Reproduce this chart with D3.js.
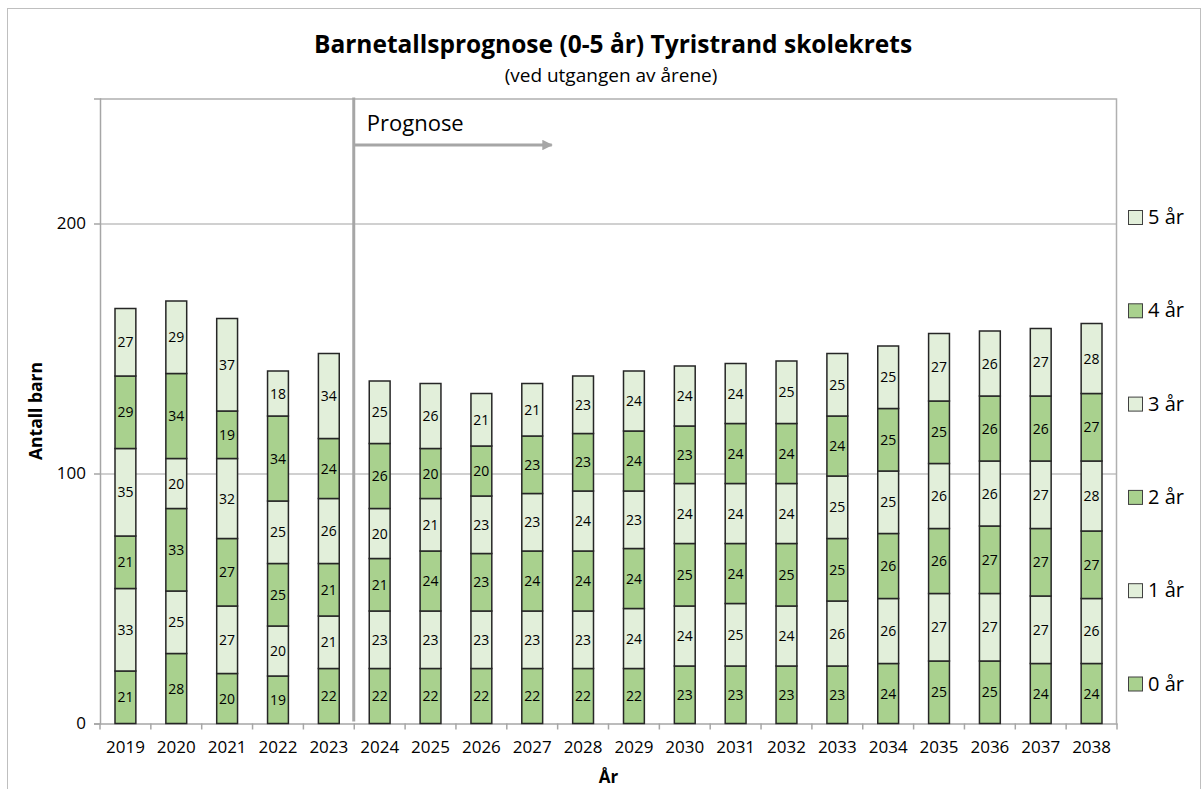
<!DOCTYPE html>
<html>
<head>
<meta charset="utf-8">
<script src="https://cdn.jsdelivr.net/npm/d3@7"></script>
<style>
  body { margin: 0; background: #fff; }
  text { font-family: 'Open Sans', sans-serif; fill: #000; }
</style>
</head>
<body>
<div id="chart-area"></div>
<script>
var years = ['2019', '2020', '2021', '2022', '2023', '2024', '2025', '2026', '2027', '2028',
  '2029', '2030', '2031', '2032', '2033', '2034', '2035', '2036', '2037', '2038'];

var ageKeys = ['0 år', '1 år', '2 år', '3 år', '4 år', '5 år'];

var age0 = [21, 28, 20, 19, 22, 22, 22, 22, 22, 22, 22, 23, 23, 23, 23, 24, 25, 25, 24, 24];
var age1 = [33, 25, 27, 20, 21, 23, 23, 23, 23, 23, 24, 24, 25, 24, 26, 26, 27, 27, 27, 26];
var age2 = [21, 33, 27, 25, 21, 21, 24, 23, 24, 24, 24, 25, 24, 25, 25, 26, 26, 27, 27, 27];
var age3 = [35, 20, 32, 25, 26, 20, 21, 23, 23, 24, 23, 24, 24, 24, 25, 25, 26, 26, 27, 28];
var age4 = [29, 34, 19, 34, 24, 26, 20, 20, 23, 23, 24, 23, 24, 24, 24, 25, 25, 26, 26, 27];
var age5 = [27, 29, 37, 18, 34, 25, 26, 21, 21, 23, 24, 24, 24, 25, 25, 25, 27, 26, 27, 28];

var yTicks = [0, 100, 200];
var prognoseStart = '2024';

var darkGreen = '#a9d18e';
var lightGreen = '#e2efda';
var ageColors = [darkGreen, lightGreen, darkGreen, lightGreen, darkGreen, lightGreen];

var W = 1203, H = 789;
var margin = { left: 100, right: 86, top: 98.5, bottom: 65.5 };
var width = W - margin.left - margin.right;
var height = H - margin.top - margin.bottom;

var svg = d3.select('#chart-area')
  .append('svg')
  .attr('width', W)
  .attr('height', H);

// outer chart border
svg.append('rect')
  .attr('x', 7.5).attr('y', 8.5)
  .attr('width', 1193).attr('height', 800)
  .attr('fill', 'none')
  .attr('stroke', '#bfbfbf');

var g = svg.append('g')
  .attr('transform', 'translate(' + margin.left + ', ' + margin.top + ')');

// table built from the arrays
var table = years.map(function(yr, i) {
  return { year: yr, '0 år': age0[i], '1 år': age1[i], '2 år': age2[i],
    '3 år': age3[i], '4 år': age4[i], '5 år': age5[i] };
});

var stacked = d3.stack().keys(ageKeys)(table);

var x = d3.scaleBand()
  .domain(years)
  .range([0, width])
  .paddingInner(0.59)
  .paddingOuter(0.295);

var y = d3.scaleLinear()
  .domain([0, 250])
  .range([height, 0]);

var color = d3.scaleOrdinal().domain(ageKeys).range(ageColors);

// gridlines
g.selectAll('.grid')
  .data(yTicks.filter(function(d) { return d > 0; }))
  .enter().append('line')
    .attr('x1', 0).attr('x2', width)
    .attr('y1', function(d) { return Math.round(y(d)) + 0.5; })
    .attr('y2', function(d) { return Math.round(y(d)) + 0.5; })
    .attr('stroke', '#c0c0c0')
    .attr('stroke-width', 1.5);

// plot area border (top / right)
g.append('path')
  .attr('d', 'M0,0.5H' + (width - 0.5) + 'V' + height)
  .attr('fill', 'none')
  .attr('stroke', '#b0b0b0')
  .attr('stroke-width', 1.5);

// Y axis
var yAxis = g.append('g')
  .call(d3.axisLeft(y).tickValues(yTicks).tickSize(6).tickPadding(8));
yAxis.select('.domain').attr('stroke', '#a6a6a6').attr('stroke-width', 1.5);
yAxis.selectAll('.tick line').attr('stroke', '#a6a6a6').attr('stroke-width', 1.5);
yAxis.selectAll('.tick text').attr('font-size', '17px').attr('font-family', "'Open Sans', sans-serif");

// X axis
var xAxis = g.append('g')
  .attr('transform', 'translate(0, ' + height + ')')
  .call(d3.axisBottom(x).tickSize(0).tickPadding(17));
xAxis.select('.domain').attr('stroke', '#a6a6a6').attr('stroke-width', 1.5);
xAxis.selectAll('.tick text').attr('font-size', '17px').attr('font-family', "'Open Sans', sans-serif");

// category boundary ticks
g.selectAll('.xtick')
  .data(d3.range(years.length + 1))
  .enter().append('line')
    .attr('x1', function(i) { return i * width / years.length; })
    .attr('x2', function(i) { return i * width / years.length; })
    .attr('y1', height).attr('y2', height + 6)
    .attr('stroke', '#a6a6a6')
    .attr('stroke-width', 1.5);

// Prognose marker
var px = x(prognoseStart) - x.step() * x.paddingInner() / 2 - 0.5;
g.append('line')
  .attr('x1', px).attr('x2', px)
  .attr('y1', -1).attr('y2', height - 2)
  .attr('stroke', '#a6a6a6')
  .attr('stroke-width', 3);

svg.append('defs').append('marker')
  .attr('id', 'arrow')
  .attr('viewBox', '0 0 10 10')
  .attr('refX', 9).attr('refY', 5)
  .attr('markerWidth', 3.5).attr('markerHeight', 3.5)
  .attr('orient', 'auto')
  .append('path')
    .attr('d', 'M0,0L10,5L0,10Z')
    .attr('fill', '#a6a6a6');

g.append('line')
  .attr('x1', px).attr('x2', px + 198)
  .attr('y1', 46.5).attr('y2', 46.5)
  .attr('stroke', '#a6a6a6')
  .attr('stroke-width', 3)
  .attr('marker-end', 'url(#arrow)');

g.append('text')
  .attr('x', px + 13)
  .attr('y', 32)
  .attr('font-size', '22px')
  .text('Prognose');

// bars
var layers = g.selectAll('.layer')
  .data(stacked)
  .enter().append('g')
    .attr('class', 'layer')
    .attr('fill', function(d) { return color(d.key); });

layers.selectAll('rect')
  .data(function(d) { return d; })
  .enter().append('rect')
    .attr('x', function(d) { return x(d.data.year); })
    .attr('y', function(d) { return y(d[1]); })
    .attr('width', x.bandwidth())
    .attr('height', function(d) { return y(d[0]) - y(d[1]); })
    .attr('stroke', '#262626')
    .attr('stroke-width', 1.5);

// segment labels
layers.selectAll('.seg')
  .data(function(d) { return d; })
  .enter().append('text')
    .attr('class', 'seg')
    .attr('x', function(d) { return x(d.data.year) + x.bandwidth() / 2; })
    .attr('y', function(d) { return (y(d[0]) + y(d[1])) / 2; })
    .attr('dy', '0.36em')
    .attr('text-anchor', 'middle')
    .attr('font-size', '14px')
    .text(function(d) { return d[1] - d[0]; });

// totals
var top = stacked[stacked.length - 1];
g.selectAll('.total')
  .data(top)
  .enter().append('text')
    .attr('x', function(d) { return x(d.data.year) + x.bandwidth() / 2; })
    .attr('y', function(d) { return y(d[1]) - 13; })
    .attr('text-anchor', 'middle')
    .attr('font-size', '14.5px')
    .text(function(d) { return d[1]; });

// Title
svg.append('text')
  .attr('x', 613).attr('y', 53)
  .attr('text-anchor', 'middle')
  .attr('font-size', '24.5px')
  .attr('font-weight', 'bold')
  .text('Barnetallsprognose (0-5 år) Tyristrand skolekrets');

svg.append('text')
  .attr('x', 611).attr('y', 82)
  .attr('text-anchor', 'middle')
  .attr('font-size', '19px')
  .text('(ved utgangen av årene)');

// Y Label
svg.append('text')
  .attr('x', -(margin.top + height / 2))
  .attr('y', 42)
  .attr('transform', 'rotate(-90)')
  .attr('text-anchor', 'middle')
  .attr('font-size', '17.5px')
  .attr('font-weight', 'bold')
  .text('Antall barn');

// X Label
svg.append('text')
  .attr('x', margin.left + width / 2)
  .attr('y', 783)
  .attr('text-anchor', 'middle')
  .attr('font-size', '17px')
  .attr('font-weight', 'bold')
  .text('År');

// Legend (5 år on top)
var legend = svg.selectAll('.legend')
  .data(ageKeys.slice().reverse())
  .enter().append('g')
    .attr('transform', function(d, i) { return 'translate(1128, ' + (217 + i * 93.3) + ')'; });

legend.append('rect')
  .attr('x', 0.5).attr('y', -6.5)
  .attr('width', 14).attr('height', 14)
  .attr('fill', function(d) { return color(d); })
  .attr('stroke', '#404040')
  .attr('stroke-width', 1);

legend.append('text')
  .attr('x', 20)
  .attr('y', 0)
  .attr('dy', '0.35em')
  .attr('font-size', '20px')
  .text(function(d) { return d; });
</script>
</body>
</html>
